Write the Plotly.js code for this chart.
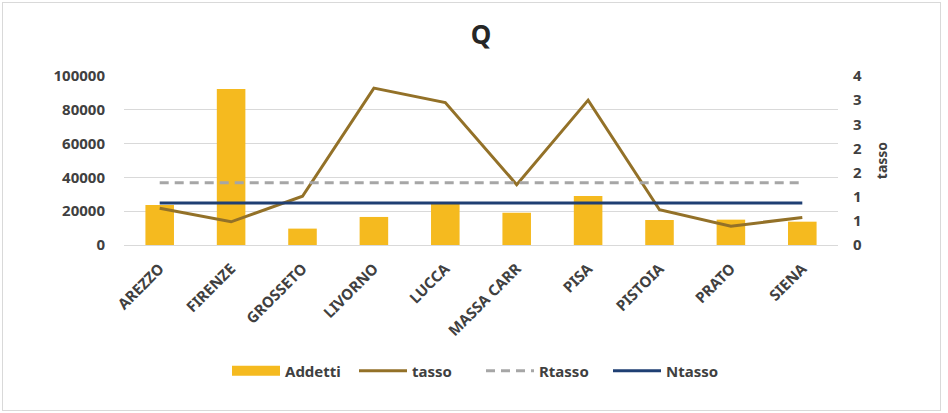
<!DOCTYPE html>
<html>
<head>
<meta charset="utf-8">
<script src="https://cdn.plot.ly/plotly-3.0.1.min.js"></script>
<style>
  html, body { margin: 0; padding: 0; background: #fff; }
  #wrap { position: relative; width: 948px; height: 413px; }
  #chart { width: 948px; height: 413px; }
  #frame { position: absolute; left: 2px; top: 2px; width: 937px; height: 407px; border: 1px solid #D9D9D9; pointer-events: none; }
</style>
</head>
<body>
<div id="wrap"><div id="chart"></div><div id="frame"></div></div>
<script>
const categories = ['AREZZO','FIRENZE','GROSSETO','LIVORNO','LUCCA','MASSA CARR','PISA','PISTOIA','PRATO','SIENA'];
const addetti = [23600, 92300, 9700, 16600, 24200, 19100, 29000, 14800, 15000, 13800];
const tasso = [0.76, 0.48, 1.01, 3.25, 2.95, 1.25, 3.0, 0.73, 0.39, 0.57];
const rtasso = [1.29, 1.29, 1.29, 1.29, 1.29, 1.29, 1.29, 1.29, 1.29, 1.29];
const ntasso = [0.87, 0.87, 0.87, 0.87, 0.87, 0.87, 0.87, 0.87, 0.87, 0.87];
const leftTickVals = [0, 20000, 40000, 60000, 80000, 100000];
const leftTickText = ['0', '20000', '40000', '60000', '80000', '100000'];
const rightTickVals = [0, 0.5, 1, 1.5, 2, 2.5, 3, 3.5];
const rightTickText = ['0', '1', '1', '2', '2', '3', '3', '4'];

const FONT = 'Noto Sans, DejaVu Sans, sans-serif';
const TXT = '#404040';
const BAR = '#F5BA1F';

const data = [
  { type: 'bar', name: 'Addetti', x: categories, y: addetti, marker: { color: BAR }, width: 0.4, yaxis: 'y', showlegend: false, legendgroup: 'a' },
  { type: 'scatter', mode: 'lines', name: 'Addetti', x: [categories[0]], y: [null], line: { color: BAR, width: 10 }, yaxis: 'y', legendgroup: 'a', hoverinfo: 'skip' },
  { type: 'scatter', mode: 'lines', name: 'tasso', x: categories, y: tasso, line: { color: '#937128', width: 3 }, yaxis: 'y2' },
  { type: 'scatter', mode: 'lines', name: 'Rtasso', x: categories, y: rtasso, line: { color: '#A6A6A6', width: 3, dash: '9px,6px' }, yaxis: 'y2' },
  { type: 'scatter', mode: 'lines', name: 'Ntasso', x: categories, y: ntasso, line: { color: '#1F3F73', width: 3 }, yaxis: 'y2' }
];

const layout = {
  width: 948, height: 413,
  margin: { l: 123.5, r: 109.5, t: 76, b: 168, pad: 0 },
  paper_bgcolor: '#fff', plot_bgcolor: '#fff',
  font: { family: FONT, color: TXT, size: 14, weight: 'bold' },
  title: { text: 'Q', font: { family: FONT, size: 26, weight: 'bold', color: '#262626' }, x: 0.5, xref: 'paper', xanchor: 'center', y: 1 - 35/413, yref: 'container', yanchor: 'middle' },
  showlegend: true,
  legend: { orientation: 'h', x: 0.5, xref: 'paper', xanchor: 'center', y: 1 - 371/413, yref: 'container', yanchor: 'middle', font: { family: FONT, size: 15, weight: 'bold', color: TXT }, itemwidth: 48, entrywidth: 64, tracegroupgap: 0, traceorder: 'normal' },
  xaxis: {
    type: 'category', tickangle: -45, showgrid: false, zeroline: false,
    showline: true, linecolor: '#D9D9D9', linewidth: 1, ticks: '',
    ticklabelstandoff: 8,
    tickfont: { family: FONT, size: 15, weight: 'bold', color: TXT }
  },
  yaxis: {
    range: [0, 100000], tickvals: leftTickVals, ticktext: leftTickText,
    showgrid: true, gridcolor: '#D9D9D9', gridwidth: 1, zeroline: false, showline: false, ticks: '',
    ticklabelstandoff: 18,
    tickfont: { family: FONT, size: 15, weight: 'bold', color: TXT }
  },
  yaxis2: {
    overlaying: 'y', side: 'right', range: [0, 3.5], tickvals: rightTickVals, ticktext: rightTickText,
    showgrid: false, zeroline: false, showline: false, ticks: '',
    ticklabelstandoff: 14,
    tickfont: { family: FONT, size: 15, weight: 'bold', color: TXT },
    title: { text: 'tasso', font: { family: FONT, size: 14, weight: 'bold', color: TXT }, standoff: 16 }
  }
};

Plotly.newPlot('chart', data, layout, { displayModeBar: false, staticPlot: true });
</script>
</body>
</html>
